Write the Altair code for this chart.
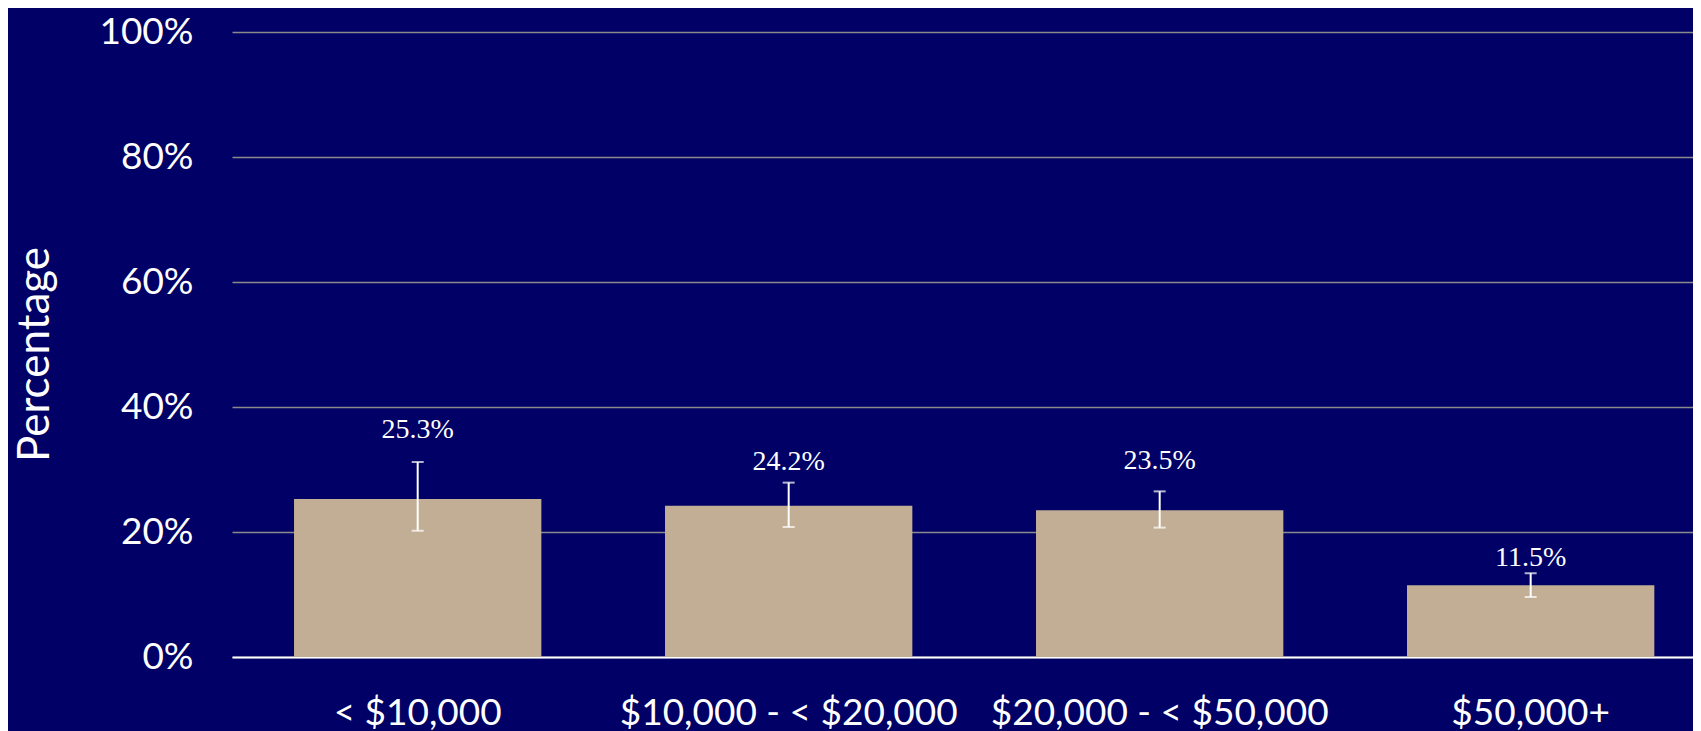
import altair as alt
import pandas as pd

categories = ["< $10,000", "$10,000 - < $20,000", "$20,000 - < $50,000", "$50,000+"]
values = [25.3, 24.2, 23.5, 11.5]
err_low = [20.2, 20.8, 20.7, 9.6]
err_high = [31.2, 27.9, 26.5, 13.4]
label_at = [35.0, 30.0, 30.1, 14.5]
y_ticks = [0, 20, 40, 60, 80, 100]

df = pd.DataFrame({
    "cat": categories,
    "val": values,
    "lo": err_low,
    "hi": err_high,
    "lab_y": label_at,
    "lab": [f"{v:.1f}%" for v in values],
})

BG = "#000066"
BAR = "#C2AE94"
LABEL_FONT = "Lato"

x_enc = alt.X(
    "cat:N",
    sort=categories,
    scale=alt.Scale(paddingInner=1 / 3, paddingOuter=0.1357, align=0.616),
    axis=alt.Axis(
        title=None,
        labelAngle=0,
        labelFont=LABEL_FONT,
        labelFontSize=37,
        labelColor="white",
        labelPadding=67,
        labelBaseline="alphabetic",
        labelLimit=0,
        ticks=False,
        tickSize=0,
        domain=True,
        domainColor="white",
        domainWidth=2,
        grid=False,
    ),
)

y_scale = alt.Scale(domain=[0, 100], nice=False)

bars = alt.Chart(df).mark_bar(color=BAR).encode(
    x=x_enc,
    y=alt.Y(
        "val:Q",
        scale=y_scale,
        axis=alt.Axis(
            title="Percentage",
            values=y_ticks,
            labelExpr="datum.value + '%'",
            labelFont=LABEL_FONT,
            labelFontSize=37,
            labelColor="white",
            labelPadding=39,
            ticks=False,
            tickSize=0,
            domain=False,
            grid=True,
            gridColor="#8A8A8A",
            gridWidth=1.3,
            titleFont=LABEL_FONT,
            titleFontSize=44,
            titleFontWeight="normal",
            titleColor="white",
            titleAngle=-90,
            titleX=-184,
            titleY=322,
            titleAlign="center",
            titleBaseline="alphabetic",
        ),
    ),
)

rules = alt.Chart(df).mark_rule(color="white", strokeWidth=2).encode(
    x=alt.X("cat:N", sort=categories),
    y=alt.Y("lo:Q", scale=y_scale),
    y2="hi:Q",
)

caps_lo = alt.Chart(df).mark_tick(color="white", size=12, thickness=2).encode(
    x=alt.X("cat:N", sort=categories),
    y=alt.Y("lo:Q", scale=y_scale),
)
caps_hi = alt.Chart(df).mark_tick(color="white", size=12, thickness=2).encode(
    x=alt.X("cat:N", sort=categories),
    y=alt.Y("hi:Q", scale=y_scale),
)

labels = alt.Chart(df).mark_text(
    color="white", font="Liberation Serif", fontSize=28, baseline="alphabetic", align="center"
).encode(
    x=alt.X("cat:N", sort=categories),
    y=alt.Y("lab_y:Q", scale=y_scale),
    text="lab:N",
)

chart = (
    alt.layer(bars, rules, caps_lo, caps_hi, labels)
    .properties(
        width=1461,
        height=625,
        background=BG,
        autosize=alt.AutoSizeParams(type="none"),
        padding={"left": 224, "top": 24, "right": 0, "bottom": 74},
    )
    .configure_view(stroke=None)
)

chart.save("out.html", embed_options={"renderer": "svg", "actions": False})
